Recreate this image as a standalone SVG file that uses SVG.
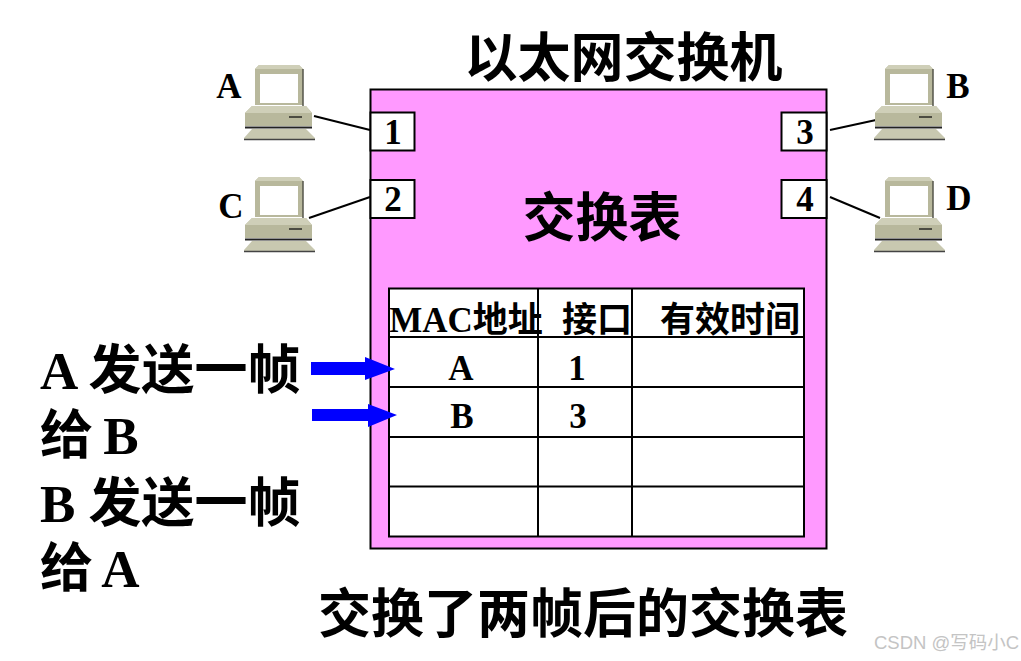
<svg xmlns="http://www.w3.org/2000/svg" width="1021" height="661" viewBox="0 0 1021 661">
<style>
text{font-family:"Liberation Serif","Noto Sans CJK SC",serif;font-weight:700;fill:#000}
.m{text-anchor:middle}
.ln{stroke:#000;stroke-width:2;fill:none}
.port{fill:#fff;stroke:#000;stroke-width:2}
.lab{font-size:35px}
.num{font-size:35px}
.cell{font-size:35px}
.hd{font-size:35px}
.big{font-size:53px}
.ttl{font-size:53px}
</style>
<defs>
<g id="pc">
<path d="M11 4 L15 0 H55 L59 4 V40 H11Z" fill="#b8b89c"/>
<path d="M59 4V44" stroke="#55554a" stroke-width="1.500" fill="none"/>
<path d="M11 4 L15 0 H55 L59 4Z" fill="#cfcfb8"/>
<rect x="16" y="9" width="38" height="29" fill="#fff"/>
<path d="M1 48 L8 41 H62 L68 48 V61 H1Z" fill="#b8b89c"/>
<path d="M1 48 L8 41 H62 L68 48Z" fill="#cfcfb8"/>
<path d="M1 62.500H68" stroke="#222" stroke-width="1.800"/>
<path d="M45 52H58" stroke="#111" stroke-width="1.300"/>
<path d="M0 73 L8 64 H62 L71 73 V75 H0Z" fill="#c8c8b0"/>
<path d="M0 74.500H71" stroke="#444" stroke-width="1.400"/>
</g>
</defs>
<rect width="1021" height="661" fill="#fff"/>
<g id="connectors">
<path d="M314 116 L370 130" class="ln"/>
<path d="M309 218 L370 197" class="ln"/>
<path d="M830 130 L876 120" class="ln"/>
<path d="M830 197 L880 218" class="ln"/>
</g>
<g id="switch">
<rect x="370.500" y="89.500" width="456" height="459" fill="#ff99ff" stroke="#000" stroke-width="2"/>
<text x="623.500" y="77" class="m ttl">以太网交换机</text>
<text x="602" y="237" class="m ttl">交换表</text>
</g>
<g id="port1"><rect x="370.500" y="112.500" width="44" height="38" class="port"/><text x="393" y="144" class="m num">1</text></g>
<g id="port2"><rect x="370.500" y="180" width="44" height="38" class="port"/><text x="393" y="211" class="m num">2</text></g>
<g id="port3"><rect x="781.500" y="112.500" width="45" height="38" class="port"/><text x="805" y="144" class="m num">3</text></g>
<g id="port4"><rect x="781.500" y="180" width="45" height="38" class="port"/><text x="805" y="211" class="m num">4</text></g>
<g id="pcA"><use href="#pc" x="244" y="65"/><text x="229" y="98" class="m lab">A</text></g>
<g id="pcC"><use href="#pc" x="244" y="177"/><text x="231" y="218" class="m lab">C</text></g>
<g id="pcB"><use href="#pc" x="874" y="65"/><text x="958" y="98" class="m lab">B</text></g>
<g id="pcD"><use href="#pc" x="874" y="177"/><text x="959" y="210" class="m lab">D</text></g>
<g id="table">
<rect x="389" y="288.500" width="415" height="248" fill="#fff" stroke="#000" stroke-width="2"/>
<path d="M389 337H804M389 387H804M389 437H804M389 486.500H804M538 288V537M632 288V537" class="ln"/>
<text x="466" y="332" class="m hd">MAC地址</text>
<text x="597" y="332" class="m hd">接口</text>
<text x="730" y="332" class="m hd">有效时间</text>
<text x="461" y="380" class="m cell">A</text>
<text x="577" y="380" class="m cell">1</text>
<text x="462" y="428" class="m cell">B</text>
<text x="578" y="428" class="m cell">3</text>
</g>
<g id="arrows" fill="#0000ff">
<path d="M311 362 H365 V357 L395 369 L365 380 V375 H311Z"/>
<path d="M312 409 H368 V404 L397 415 L368 427 V421 H312Z"/>
</g>
<g id="captions">
<text x="40" y="389" class="big">A 发送一帧</text>
<text x="40" y="454" class="big" word-spacing="-3">给 B</text>
<text x="40" y="522" class="big">B 发送一帧</text>
<text x="40" y="587" class="big" word-spacing="-5">给 A</text>
<text x="583" y="633" class="m ttl">交换了两帧后的交换表</text>
</g>
<text x="874" y="649" style="font-family:'Liberation Sans','Noto Sans CJK SC',sans-serif;font-weight:400;font-size:18.500px;fill:#c4c4c4">CSDN @写码小C</text>
</svg>
